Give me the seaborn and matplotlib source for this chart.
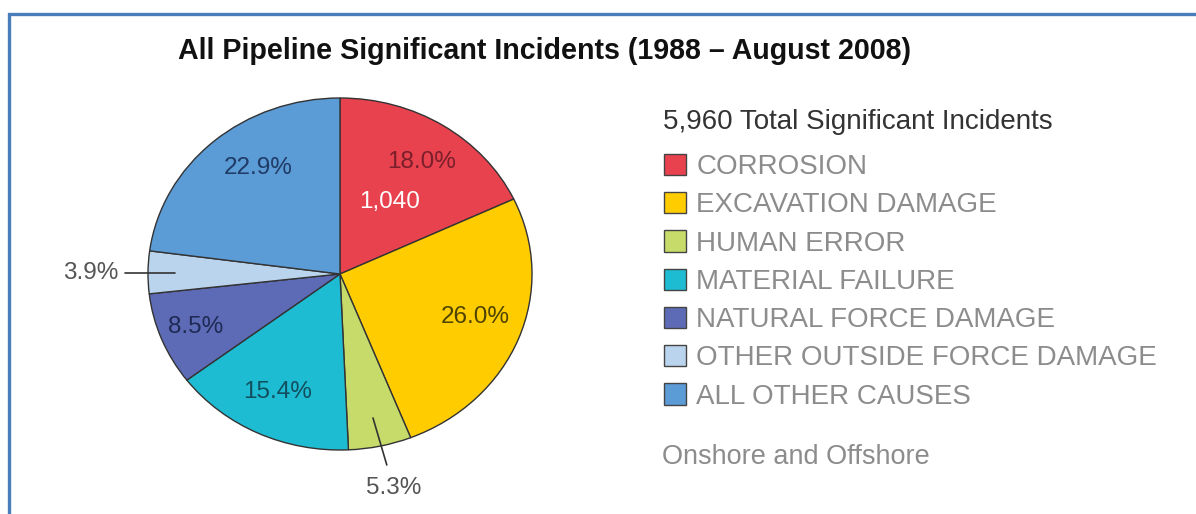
import numpy as np
import matplotlib
matplotlib.use("Agg")
import matplotlib.pyplot as plt
import matplotlib.patches as mpatches
import seaborn as sns

# Incident causes, 1988 – August 2008 (share of total, %)
categories = ["CORROSION", "EXCAVATION DAMAGE", "HUMAN ERROR", "MATERIAL FAILURE",
              "NATURAL FORCE DAMAGE", "OTHER OUTSIDE FORCE DAMAGE", "ALL OTHER CAUSES"]
shares = [18.0, 26.0, 5.3, 15.4, 8.5, 3.9, 22.9]
corrosion_count = 1040
total_incidents = 5960

colors = ["#E8424F", "#FFCC00", "#C6DB6A", "#1EBCD3", "#5D6BB6", "#BAD4EE", "#5B9BD6"]
label_colors = ["#7A1F2A", "#4F4300", "#555555", "#124F5E", "#1E2A55", "#555555", "#1F3B66"]

sns.set_theme(style="white")
plt.rcParams["font.family"] = ["Liberation Sans", "DejaVu Sans"]

W, H = 1196, 514
fig = plt.figure(figsize=(W / 100, H / 100), dpi=100)

# Pie axes: slightly wider than tall
cx, cy, rx, ry = 340, 274, 192, 176
ax = fig.add_axes([(cx - rx) / W, (H - cy - ry) / H, 2 * rx / W, 2 * ry / H])
wedges, _ = ax.pie(shares, colors=colors, startangle=90, counterclock=False,
                   wedgeprops=dict(edgecolor="#333333", linewidth=1.0))
ax.set_aspect("auto")
ax.set_xlim(-1, 1)
ax.set_ylim(-1, 1)
ax.axis("off")

# Mid-angle of each wedge (degrees, mathematical convention)
cum = np.cumsum([0] + shares[:-1])
mid = 90 - 3.6 * (cum + np.array(shares) / 2)

def polar(i, r, dang=0.0):
    a = np.deg2rad(mid[i] + dang)
    return r * np.cos(a), r * np.sin(a)

fs_in = 17.5
inside = {0: (0.765, -1.3), 1: (0.745, 2.5), 3: (0.745, -0.5), 4: (0.81, 0.0), 6: (0.74, -5.9)}
for i, (r, da) in inside.items():
    x, y = polar(i, r, da)
    ax.text(x, y, f"{shares[i]:.1f}%", ha="center", va="center",
            fontsize=fs_in, color=label_colors[i])

# Count in the corrosion wedge
x, y = polar(0, 0.485, 0)
ax.text(x, y, f"{corrosion_count:,}", ha="center", va="center",
        fontsize=fs_in, color="white")

# Small wedges labelled outside with leader lines
x0, y0 = polar(5, 0.86, 0)
x1, y1 = polar(5, 1.12, 0)
ax.plot([x0, x1], [y0, y0], color="#333333", lw=1.2, clip_on=False)
ax.text(x1 - 0.035, y0, f"{shares[5]:.1f}%", ha="right", va="center",
        fontsize=fs_in, color="#555555")

x0, y0 = polar(2, 0.836, -0.2)
x1, y1 = polar(2, 1.112, 0.6)
ax.plot([x0, x1], [y0, y1], color="#333333", lw=1.2, clip_on=False)
xt, yt = polar(2, 1.245, 0.85)
ax.text(xt, yt, f"{shares[2]:.1f}%", ha="center", va="center",
        fontsize=fs_in, color="#555555")

# Title
fig.text(544 / W, 1 - 51 / H, "All Pipeline Significant Incidents (1988 – August 2008)",
         ha="center", va="center", fontsize=20.6, fontweight="bold", color="#111111")

# Legend heading and entries
fig.text(663 / W, 1 - 122 / H, f"{total_incidents:,} Total Significant Incidents",
         ha="left", va="center", fontsize=20, color="#333333")

handles = [mpatches.Patch(facecolor=c, edgecolor="#444444", linewidth=1.0) for c in colors]
leg = fig.legend(handles, categories, loc="upper left",
                 bbox_to_anchor=(664 / W, 1 - 154 / H), frameon=False,
                 fontsize=20, handlelength=0.8, handleheight=0.8, handletextpad=0.36,
                 labelspacing=0.43, borderpad=0.0, borderaxespad=0.0)
for t in leg.get_texts():
    t.set_color("#8C8C8C")

fig.text(662 / W, 1 - 457 / H, "Onshore and Offshore", ha="left", va="center",
         fontsize=19.5, color="#8C8C8C")

# Blue frame around the panel
frame = mpatches.Rectangle((8.5 / W, -0.1), 1.2, 1 - 13.5 / H + 0.1,
                           transform=fig.transFigure, fill=False,
                           edgecolor="#4A7EBB", linewidth=2.4)
fig.add_artist(frame)

fig.savefig("out.png", dpi=100)
